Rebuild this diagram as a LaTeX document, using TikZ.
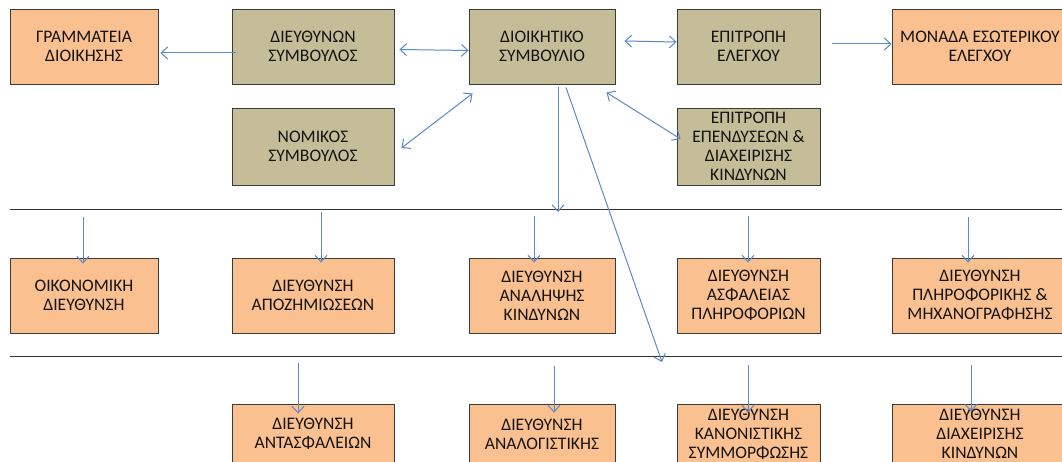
\documentclass[tikz,border=0pt]{standalone}
\usepackage{fontspec}
\setmainfont{Carlito}
\usetikzlibrary{arrows.meta,calc}
\definecolor{tanc}{HTML}{C4BD97}
\definecolor{orgc}{HTML}{FAC090}
\definecolor{arrc}{HTML}{5A8AC6}
\definecolor{bordc}{HTML}{3A3A3A}
\tikzset{
  box/.style={draw=bordc, line width=0.9pt, align=center, inner sep=1pt,
    font=\fontsize{17.6}{19}\selectfont, text=black!92},
  tanbox/.style={box, fill=tanc},
  orgbox/.style={box, fill=orgc},
  wA/.style={minimum width=148pt},
  wB/.style={minimum width=162pt},
  wC/.style={minimum width=146pt},
  wD/.style={minimum width=143pt},
  wE/.style={minimum width=176pt},
  arr/.style={draw=arrc, line width=1pt, -{Straight Barb[length=6.5pt,width=12pt]}},
  darr/.style={draw=arrc, line width=1pt, {Straight Barb[length=6.5pt,width=12pt]}-{Straight Barb[length=6.5pt,width=12pt]}},
  rulel/.style={draw=black!80, line width=1pt}
}
\begin{document}
\begin{tikzpicture}[x=1pt,y=-1pt]
\clip (0,0) rectangle (1062,462);
\fill[white] (0,0) rectangle (1062,462);
% row 1
\node[orgbox,wA,minimum height=75pt] (gram) at (84,46.5) {ΓΡΑΜΜΑΤΕΙΑ\\ΔΙΟΙΚΗΣΗΣ};
\node[tanbox,wB,minimum height=75pt] (ceo) at (313,46.5) {ΔΙΕΥΘΥΝΩΝ\\ΣΥΜΒΟΥΛΟΣ};
\node[tanbox,wC,minimum height=75pt] (board) at (542,46.5) {ΔΙΟΙΚΗΤΙΚΟ\\ΣΥΜΒΟΥΛΙΟ};
\node[tanbox,wD,minimum height=75pt] (audit) at (748.5,46.5) {ΕΠΙΤΡΟΠΗ\\ΕΛΕΓΧΟΥ};
\node[orgbox,wE,minimum height=75pt] (intaud) at (980,46.5) {ΜΟΝΑΔΑ ΕΣΩΤΕΡΙΚΟΥ\\ΕΛΕΓΧΟΥ};
\node[tanbox,wB,minimum height=77pt] (legal) at (313,146.5) {ΝΟΜΙΚΟΣ\\ΣΥΜΒΟΥΛΟΣ};
\node[tanbox,wD,minimum height=77pt] (invest) at (748.5,146.5) {ΕΠΙΤΡΟΠΗ\\ΕΠΕΝΔΥΣΕΩΝ \&\\ΔΙΑΧΕΙΡΙΣΗΣ\\ΚΙΝΔΥΝΩΝ};
% rules
\coordinate (r1w) at (10,210);
\coordinate (r1e) at (1070,210);
\coordinate (r2w) at (10,356);
\coordinate (r2e) at (1070,356);
\draw[rulel] (r1w) -- (r1e);
\draw[rulel] (r2w) -- (r2e);
% row 2
\node[orgbox,wA,minimum height=75pt] (fin) at (84,295.5) {ΟΙΚΟΝΟΜΙΚΗ\\ΔΙΕΥΘΥΝΣΗ};
\node[orgbox,wB,minimum height=75pt] (claims) at (313,295.5) {ΔΙΕΥΘΥΝΣΗ\\ΑΠΟΖΗΜΙΩΣΕΩΝ};
\node[orgbox,wC,minimum height=75pt] (under) at (542,295.5) {ΔΙΕΥΘΥΝΣΗ\\ΑΝΑΛΗΨΗΣ\\ΚΙΝΔΥΝΩΝ};
\node[orgbox,wD,minimum height=75pt] (secur) at (748.5,295.5) {ΔΙΕΥΘΥΝΣΗ\\ΑΣΦΑΛΕΙΑΣ\\ΠΛΗΡΟΦΟΡΙΩΝ};
\node[orgbox,wE,minimum height=75pt] (itd) at (980,295.5) {ΔΙΕΥΘΥΝΣΗ\\ΠΛΗΡΟΦΟΡΙΚΗΣ \&\\ΜΗΧΑΝΟΓΡΑΦΗΣΗΣ};
% row 3
\node[orgbox,wB,minimum height=60pt] (reins) at (313,434) {ΔΙΕΥΘΥΝΣΗ\\ΑΝΤΑΣΦΑΛΕΙΩΝ};
\node[orgbox,wC,minimum height=60pt] (actu) at (542,434) {ΔΙΕΥΘΥΝΣΗ\\ΑΝΑΛΟΓΙΣΤΙΚΗΣ};
\node[orgbox,wD,minimum height=60pt] (compl) at (748.5,434) {ΔΙΕΥΘΥΝΣΗ\\ΚΑΝΟΝΙΣΤΙΚΗΣ\\ΣΥΜΜΟΡΦΩΣΗΣ};
\node[orgbox,wE,minimum height=60pt] (riskd) at (980,434) {ΔΙΕΥΘΥΝΣΗ\\ΔΙΑΧΕΙΡΙΣΗΣ\\ΚΙΝΔΥΝΩΝ};
% top connectors
\draw[arr] ($(ceo.west)+(4,6.5)$) -- ($(gram.east)+(2,6.5)$);
\draw[darr] ($(ceo.east)+(5,3)$) -- ($(board.west)+(0,4)$);
\draw[darr] ($(board.east)+(9,-5.5)$) -- ($(audit.west)+(0,-4.5)$);
\draw[arr] ($(audit.east)+(12,-2.5)$) -- ($(intaud.west)+(0,-2.5)$);
\draw[darr] ($(legal.east)+(7,1.5)$) -- ($(board.south west)+(4,9)$);
\draw[darr] ($(board.south east)+(-9,8)$) -- ($(invest.west)+(4,-7.5)$);
\coordinate (t1) at (558,212);
\coordinate (t2) at (662,362);
\draw[arr] ($(board.south)+(16,3)$) -- (t1);
\draw[arr] ($(board.south)+(24,3)$) -- (t2);
% row 2 connectors
\coordinate (s1) at (83,217);
\coordinate (s2) at (321,212);
\coordinate (s3) at (534,216);
\coordinate (s4) at (748,216);
\coordinate (s5) at (968,217);
\draw[arr] (s1) -- ($(fin.north)+(-1,6)$);
\draw[arr] (s2) -- ($(claims.north)+(8,5)$);
\draw[arr] (s3) -- ($(under.north)+(-8,5)$);
\draw[arr] (s4) -- ($(secur.north)+(-0.5,5)$);
\draw[arr] (s5) -- ($(itd.north)+(-12,5)$);
% row 3 connectors
\coordinate (u1) at (298,363);
\coordinate (u2) at (554,366);
\coordinate (u3) at (748,365);
\coordinate (u4) at (971,365);
\draw[arr] (u1) -- ($(reins.north)+(-15,10)$);
\draw[arr] (u2) -- ($(actu.north)+(12,9)$);
\draw[arr] (u3) -- ($(compl.north)+(-0.5,9)$);
\draw[arr] (u4) -- ($(riskd.north)+(-9,8)$);
\end{tikzpicture}
\end{document}
